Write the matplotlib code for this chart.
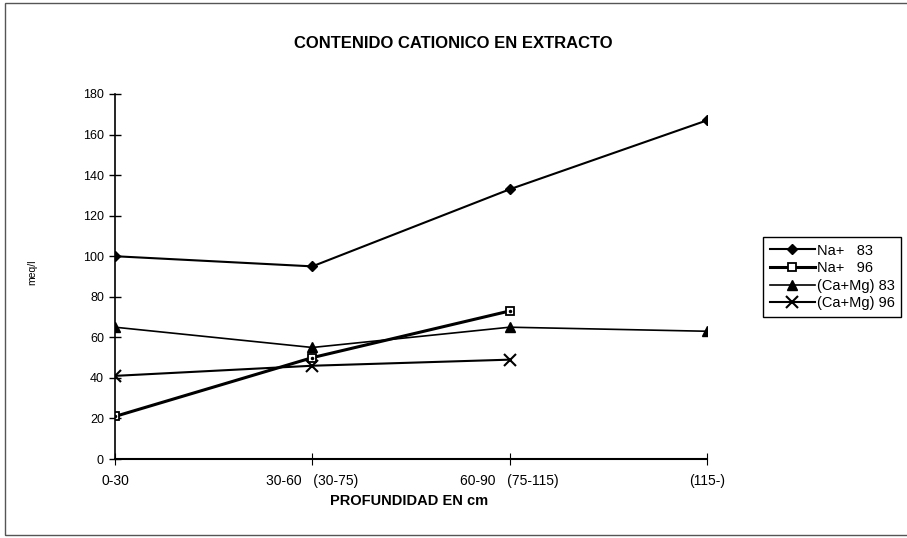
import matplotlib
matplotlib.use("Agg")
import matplotlib.pyplot as plt
from matplotlib.patches import Rectangle

plt.rcParams['font.family'] = ['Liberation Sans', 'DejaVu Sans']

# Depth categories (x axis) and series values in meq/l
categories = ["0-30", "30-60   (30-75)", "60-90   (75-115)", "(115-)"]
na_83 = [100, 95, 133, 167]
na_96 = [21, 50, 73]
camg_83 = [65, 55, 65, 63]
camg_96 = [41, 46, 49]
y_ticks = [0, 20, 40, 60, 80, 100, 120, 140, 160, 180]

fig = plt.figure(figsize=(9.07, 5.38), dpi=100)
ax = fig.add_axes([0.1268, 0.1468, 0.6527, 0.6785])

x_all = list(range(len(categories)))

ax.plot(x_all[:len(na_83)], na_83, color="black", lw=1.5, marker="D", ms=5,
        label="Na+   83")
ax.plot(x_all[:len(na_96)], na_96, color="black", lw=2.2, marker="s", ms=6,
        mfc="white", mec="black", mew=1.3, label="Na+   96")
ax.plot(x_all[:len(camg_83)], camg_83, color="black", lw=1.2, marker="^", ms=7,
        label="(Ca+Mg) 83")
ax.plot(x_all[:len(camg_96)], camg_96, color="black", lw=1.5, marker="x", ms=8,
        mew=1.5, label="(Ca+Mg) 96")
# dot inside the square markers
ax.plot(x_all[:len(na_96)], na_96, ls="none", marker=".", ms=3, color="black")

ax.set_xlim(0, len(categories) - 1)
ax.set_ylim(0, 180)
ax.set_xticks(x_all)
ax.set_xticklabels(categories, fontsize=10)
ax.set_yticks(y_ticks)
ax.tick_params(axis="y", direction="inout", length=8, width=1, labelsize=9, pad=4)
ax.tick_params(axis="x", direction="inout", length=8, width=0.8, pad=7)

for side in ["top", "right"]:
    ax.spines[side].set_visible(False)
ax.spines["left"].set_linewidth(1.2)
ax.spines["bottom"].set_linewidth(1.5)

fig.text(0.5, 0.92, "CONTENIDO CATIONICO EN EXTRACTO", ha="center", va="center",
         fontsize=12, fontweight="bold")
fig.text(0.451, 0.068, "PROFUNDIDAD EN cm", ha="center", va="center",
         fontsize=10.5, fontweight="bold")
fig.text(0.036, 0.494, "meq/l", ha="center", va="center", rotation=90, fontsize=7.5)

handles, labels = ax.get_legend_handles_labels()
leg = fig.legend(handles, labels, loc="upper left",
                 bbox_to_anchor=(763 / 907, 1 - 237 / 538),
                 borderaxespad=0, fontsize=10.5, handlelength=3.1,
                 handletextpad=0.15, labelspacing=0.25, borderpad=0.45,
                 fancybox=False, edgecolor="black", framealpha=1)
leg.get_frame().set_linewidth(1)

# thin border around the whole chart
fig.patches.append(Rectangle((0.006, 0.006), 1.2, 0.988, transform=fig.transFigure,
                             fill=False, lw=1, edgecolor="#555555"))

plt.savefig("out.png", dpi=100)
plt.close()
